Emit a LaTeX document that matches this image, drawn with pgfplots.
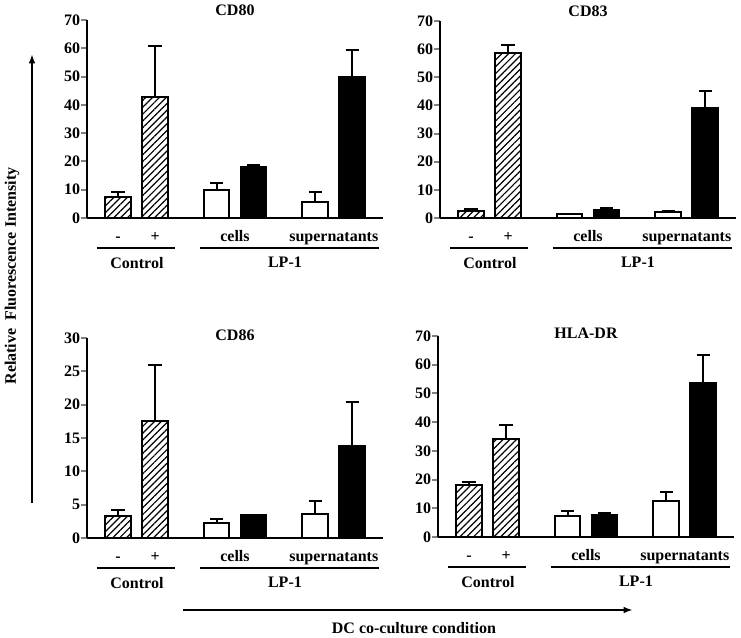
\documentclass[border=0pt,12pt]{standalone}
\usepackage{fontspec}
\setmainfont{Liberation Serif}
\usepackage{pgfplots}
\pgfplotsset{compat=1.18}
\usetikzlibrary{patterns.meta,arrows.meta}

\pgfplotsset{
  panel/.style={
    scale only axis, width=222pt, xmin=0, xmax=8, ymin=0,
    axis x line*=bottom, axis y line*=left,
    axis line style={line width=2pt,-},
    clip=false,
    font=\bfseries,
    /pgf/number format/assume math mode=true,
    ticklabel style={font=\bfseries},
    xtick={0.84,1.84,4.0,6.67},
    xticklabels={-,+,cells,supernatants},
    xtick style={draw=none},
    xticklabel style={text height=9pt, text depth=2.5pt},
    ytick style={line width=1.5pt},
    tick align=outside,
    major tick length=4.5pt,
    yticklabel style={inner sep=0.5pt},
    title style={font=\bfseries, at={(0.5,1)}, anchor=center},
  },
  barbase/.style={ybar, bar shift=0pt, bar width=0.7, draw=black, line width=1.5pt,
    error bars/y dir=plus, error bars/y explicit,
    error bars/error bar style={line width=1.5pt, black, solid},
    error bars/error mark options={line width=1.5pt, mark size=5pt, black, rotate=90}},
  hatchbar/.style={fill=white, postaction={pattern={Lines[angle=45,distance=3.6pt,line width=0.9pt]}}, barbase},
  whitebar/.style={fill=white, barbase},
  blackbar/.style={fill=black, barbase},
}

\newcommand{\groups}{%
  \draw[line width=2pt] ([yshift=-22.5pt]axis cs:0.27,0) -- ([yshift=-22.5pt]axis cs:2.38,0);
  \draw[line width=2pt] ([yshift=-22.5pt]axis cs:3.05,0) -- ([yshift=-22.5pt]axis cs:7.9,0);
  \node[font=\bfseries] at ([yshift=-33.5pt]axis cs:1.35,0) {Control};
  \node[font=\bfseries] at ([yshift=-33.5pt]axis cs:5.35,0) {LP-1};
}

\begin{document}
\begin{tikzpicture}
\useasboundingbox (0,0) rectangle (555.75pt,477.75pt);

% CD80
\begin{axis}[panel, at={(65.25pt,314.25pt)}, anchor=south west, height=148.5pt,
  ymax=70, ytick={0,10,...,70}, title={CD80}, title style={yshift=1.5pt}]
\addplot[hatchbar] coordinates {(0.84,7.6) +- (0,1.6) (1.84,42.7) +- (0,18.2)};
\addplot[whitebar] coordinates {(3.5,9.8) +- (0,2.4) (6.17,5.8) +- (0,3.3)};
\addplot[blackbar] coordinates {(4.5,18.2) +- (0,0.6) (7.17,50.0) +- (0,9.3)};
\groups
\end{axis}

% CD83
\begin{axis}[panel, at={(330pt,314.25pt)}, anchor=south west, height=147.75pt,
  ymax=70, ytick={0,10,...,70}, title={CD83}, title style={yshift=1.5pt}]
\addplot[hatchbar] coordinates {(0.84,2.4) +- (0,0.9) (1.84,58.8) +- (0,2.8)};
\addplot[whitebar] coordinates {(3.5,1.4) +- (0,0.2) (6.17,2.1) +- (0,0.5)};
\addplot[blackbar] coordinates {(4.5,3.0) +- (0,0.4) (7.17,39.2) +- (0,5.9)};
\groups
\end{axis}

% CD86
\begin{axis}[panel, at={(65.25pt,74.25pt)}, anchor=south west, height=150pt,
  ymax=30, ytick={0,5,...,30}, title={CD86}, title style={yshift=-3.75pt}]
\addplot[hatchbar] coordinates {(0.84,3.35) +- (0,0.9) (1.84,17.5) +- (0,8.5)};
\addplot[whitebar] coordinates {(3.5,2.25) +- (0,0.6) (6.17,3.6) +- (0,1.9)};
\addplot[blackbar] coordinates {(4.5,3.4) +- (0,0.1) (7.17,13.85) +- (0,6.5)};
\groups
\end{axis}

% HLA-DR
\begin{axis}[panel, at={(328.5pt,75pt)}, anchor=south west, height=150.75pt,
  ymax=70, ytick={0,10,...,70}, title={HLA-DR}, title style={yshift=-3.75pt}]
\addplot[hatchbar] coordinates {(0.84,18.0) +- (0,1.2) (1.84,34.3) +- (0,4.7)};
\addplot[whitebar] coordinates {(3.5,7.3) +- (0,1.7) (6.17,12.7) +- (0,3.0)};
\addplot[blackbar] coordinates {(4.5,7.8) +- (0,0.7) (7.17,53.8) +- (0,9.6)};
\groups
\end{axis}

% outer arrows and labels
\draw[line width=1.5pt, -{Latex[length=7pt,width=5pt]}] (24pt,100.5pt) -- (24pt,437.25pt);
\node[font=\bfseries, rotate=90] at (9pt,270.75pt) {Relative\ \ Fluorescence Intensity};
\draw[line width=1.5pt, -{Latex[length=7pt,width=5pt]}] (137.25pt,20.25pt) -- (474.75pt,20.25pt);
\node[font=\bfseries, anchor=base, inner sep=0pt] at (310.5pt,2.5pt) {DC co-culture condition};
\end{tikzpicture}
\end{document}
